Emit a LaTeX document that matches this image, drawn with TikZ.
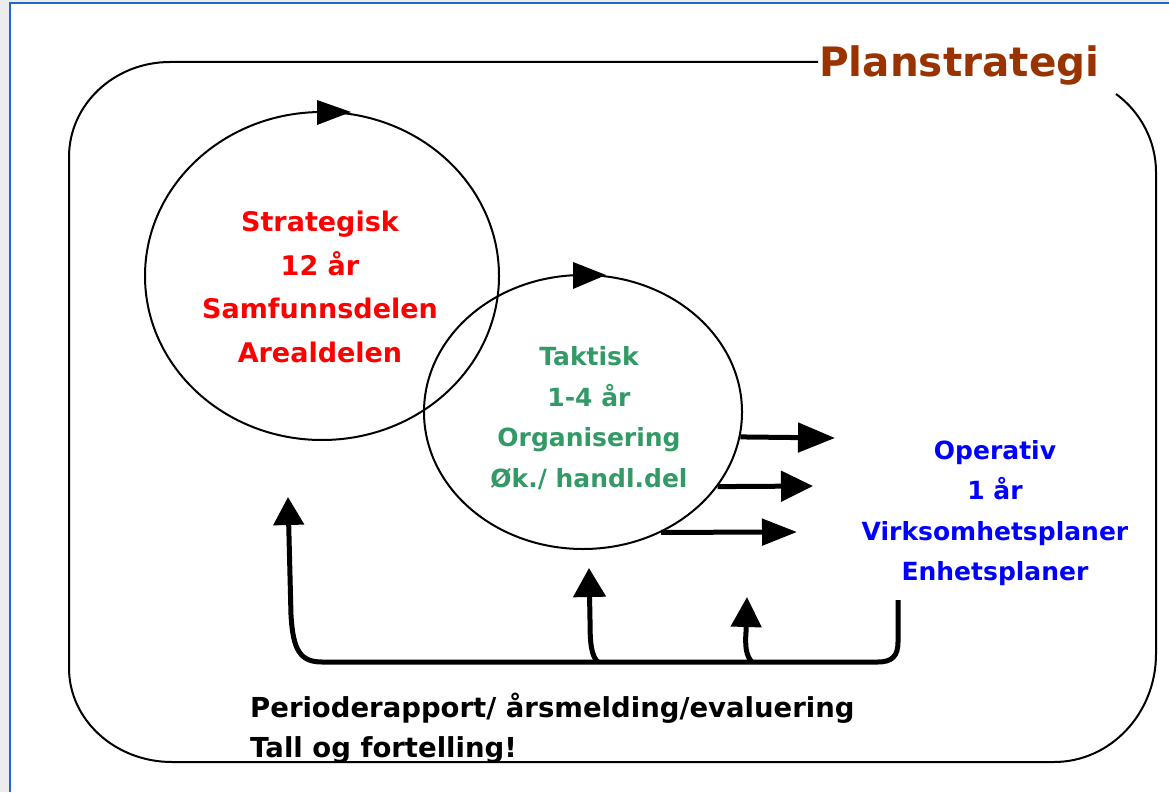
\documentclass[tikz,border=0pt]{standalone}
\usepackage{fontspec}
\setmainfont{DejaVu Sans}
\usetikzlibrary{arrows.meta,shapes.geometric}
\definecolor{titlebrown}{HTML}{993300}
\definecolor{tgreen}{HTML}{339966}
\definecolor{oblue}{HTML}{0000FF}
\definecolor{sred}{HTML}{FF0000}
\definecolor{framegray}{HTML}{ECECEC}
\definecolor{frameblue}{HTML}{1C6AC9}
\begin{document}
\begin{tikzpicture}[x=1pt,y=-1pt,
  outline/.style={line width=2pt, black},
  ring/.style={draw, ellipse, line width=2pt, inner sep=0pt},
  fat/.style={line width=5pt, black},
  headtri/.style={fill=black},
  lbl/.style={inner sep=0pt, font=\bfseries, align=center}]
% canvas and frame
\useasboundingbox (0,0) rectangle (1169,792);
\fill[white] (0,0) rectangle (1169,792);
\fill[framegray] (0,0) rectangle (8.5,792);
\fill[framegray] (0,0) rectangle (1169,2.5);
\draw[frameblue, line width=2pt] (9.5,792) -- (9.5,3.5) -- (1169,3.5);

% title
\node[inner sep=0pt, anchor=base west, text=titlebrown,
      font=\bfseries\fontsize{40.5}{40.5}\selectfont] (title) at (819,76) {Planstrategi};
\coordinate (tl) at (818,62);

% outer rounded frame (top-right corner hidden behind the title)
\draw[outline] (1116,94) .. controls (1140.8,112.1) and (1156,141.3) .. (1156,172)
  -- (1156,654) .. controls (1156,713.6) and (1110.3,762) .. (1054,762)
  -- (172,762) .. controls (115.1,762) and (69,719.9) .. (69,668)
  -- (69,157) .. controls (69,104.5) and (114.2,62) .. (170,62)
  -- (tl);

% circles
\node[ring, minimum width=354pt, minimum height=328pt] (strat) at (322,276) {};
\node[ring, minimum width=318pt, minimum height=274pt] (takt) at (583,412) {};
\fill[headtri] (317,100) -- (351,112) -- (317,125) -- cycle;
\fill[headtri] (573,262) -- (606,275) -- (573,289) -- cycle;

% texts
\node[lbl, text=sred, font=\bfseries\fontsize{27}{43.5}\selectfont] (stext) at (320,287)
  {Strategisk\\12 år\\Samfunnsdelen\\Arealdelen};
\node[lbl, text=tgreen, font=\bfseries\fontsize{25}{40.5}\selectfont] (ttext) at (589,418)
  {Taktisk\\1-4 år\\Organisering\\Øk./ handl.del};
\node[lbl, text=oblue, font=\bfseries\fontsize{25}{40.5}\selectfont] (oper) at (995,513)
  {Operativ\\1 år\\Virksomhetsplaner\\Enhetsplaner};
\node[inner sep=0pt, anchor=west, align=left, font=\bfseries\fontsize{27.5}{40.5}\selectfont] (rep) at (250,728)
  {Perioderapport/ årsmelding/evaluering\\Tall og fortelling!};

% arrows from the tactical circle towards the operative level
\coordinate (e1) at (835,438);
\coordinate (e2) at (813,486);
\coordinate (e3) at (797,532);
\draw[fat, -{Triangle[length=37pt,width=29pt]}] (takt.-9.5) -- (e1);
\draw[fat, -{Triangle[length=32pt,width=30pt]}] (takt.-29) -- (e2);
\draw[fat, -{Triangle[length=35pt,width=26pt]}] (takt.-57.4) -- (e3);

% feedback loop
\coordinate (fbstart) at (898,600);
\coordinate (fbleft) at (288,497);
\coordinate (fbmid) at (589,568);
\coordinate (fbop) at (747,597);
\coordinate (j1) at (598,662);
\coordinate (j2) at (752,662);
\draw[fat, -{Triangle[length=28pt,width=30pt]}] (fbstart) -- (898,642)
  .. controls (898,656) and (892,662) .. (878,662) -- (322,662)
  .. controls (300,662) and (293,650) .. (291,615) -- (fbleft);
\draw[fat, -{Triangle[length=29pt,width=32pt]}] (j1)
  .. controls (591,656) and (590,642) .. (590,620) -- (fbmid);
\draw[fat, -{Triangle[length=30pt,width=30pt]}] (j2)
  .. controls (746,656) and (745,646) .. (746,632) -- (fbop);
\end{tikzpicture}
\end{document}
